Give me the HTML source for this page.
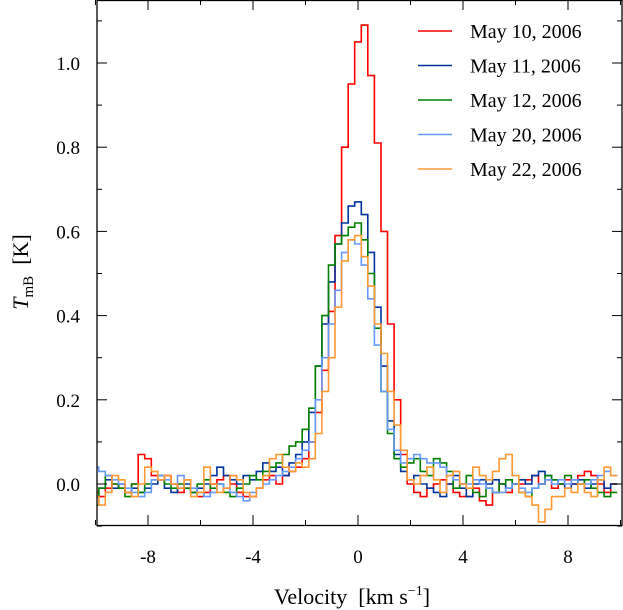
<!DOCTYPE html>
<html><head><meta charset="utf-8"><style>
body{margin:0;background:#fff}
svg{display:block;font-family:"Liberation Serif",serif}
</style></head><body>
<svg id="chart" width="623" height="610" viewBox="0 0 623 610" xmlns="http://www.w3.org/2000/svg">
<g id="plot"></g>
</svg>
<script>
const vStart = -10, vStep = 0.25;
const labels = ["May 10, 2006","May 11, 2006","May 12, 2006","May 20, 2006","May 22, 2006"];
const red = [-0.02,-0.03,-0.01,0.0,-0.01,-0.02,0.0,0.07,0.06,0.02,0.01,0.02,0.0,-0.02,-0.01,-0.02,-0.03,-0.02,0.0,0.01,0.02,0.0,-0.02,-0.03,-0.03,-0.01,0.01,0.02,0.0,0.02,0.03,0.04,0.06,0.10,0.17,0.27,0.41,0.59,0.80,0.95,1.05,1.09,0.97,0.81,0.60,0.38,0.20,0.07,0.0,-0.02,-0.03,-0.01,0.0,0.01,0.0,-0.02,-0.03,-0.03,-0.01,-0.04,-0.05,-0.02,0.0,-0.02,0.0,0.0,0.01,0.02,0.0,0.01,-0.01,0.0,0.01,0.0,0.02,0.03,0.02,0.0,-0.02,0.0];
const blue = [-0.03,-0.01,0.01,-0.01,0.0,-0.02,-0.01,-0.02,-0.01,0.0,0.01,-0.01,-0.02,-0.01,0.0,-0.02,-0.01,0.0,0.02,0.04,0.02,0.01,0.0,0.02,0.01,0.03,0.05,0.03,0.04,0.02,0.05,0.07,0.10,0.17,0.28,0.38,0.48,0.57,0.62,0.66,0.67,0.64,0.55,0.42,0.28,0.15,0.07,0.03,0.01,0.02,0.0,-0.01,-0.02,-0.03,0.0,0.02,-0.01,-0.03,0.0,0.01,0.0,0.01,0.0,-0.01,0.0,0.01,0.0,0.02,0.03,0.02,0.01,0.0,-0.01,0.0,0.01,-0.01,0.0,0.01,-0.01,0.0];
const green = [-0.05,-0.01,0.02,0.0,-0.01,-0.03,0.0,-0.02,0.0,0.01,0.02,0.0,-0.01,0.0,-0.01,-0.02,0.0,0.01,-0.01,0.0,-0.02,-0.03,-0.01,0.0,0.02,0.01,0.03,0.04,0.05,0.07,0.09,0.10,0.13,0.18,0.28,0.40,0.52,0.57,0.59,0.61,0.62,0.58,0.50,0.37,0.22,0.12,0.06,0.04,0.05,0.06,0.03,0.02,0.06,0.05,0.03,-0.01,0.0,0.02,-0.02,-0.03,-0.01,-0.02,0.0,0.01,0.0,-0.02,-0.03,-0.01,0.0,0.02,0.01,0.0,0.02,0.01,0.0,0.01,-0.01,-0.02,-0.03,-0.02];
const lightblue = [0.04,0.03,0.02,0.01,0.0,-0.01,-0.02,-0.03,-0.02,0.01,0.02,0.01,0.0,0.02,0.01,-0.01,-0.02,-0.03,-0.02,0.0,-0.01,-0.02,-0.03,-0.04,-0.02,-0.01,0.0,0.01,0.02,0.03,0.04,0.06,0.08,0.10,0.20,0.30,0.38,0.46,0.55,0.58,0.57,0.52,0.44,0.33,0.22,0.13,0.08,0.05,0.06,0.07,0.06,0.05,0.05,0.04,0.02,0.01,0.0,0.0,0.01,0.0,-0.01,-0.02,-0.02,-0.01,0.0,-0.01,-0.02,-0.01,0.0,0.01,0.0,0.01,0.0,0.01,0.0,0.0,0.01,0.02,0.03,0.02];
const orange = [-0.03,-0.05,-0.02,0.02,0.01,-0.02,-0.03,0.0,0.04,0.03,0.01,0.02,0.0,-0.01,0.01,-0.03,-0.02,0.04,0.0,-0.02,-0.01,0.02,0.01,-0.02,-0.03,-0.01,0.02,0.06,0.07,0.04,0.03,0.05,0.04,0.06,0.12,0.22,0.30,0.42,0.53,0.58,0.59,0.54,0.47,0.38,0.31,0.22,0.14,0.08,0.01,0.0,0.02,0.04,0.01,-0.02,0.02,0.03,0.0,-0.01,0.04,0.02,0.01,0.03,0.06,0.07,0.02,-0.02,-0.03,-0.05,-0.09,-0.06,-0.03,-0.03,-0.01,-0.02,0.0,-0.02,-0.03,0.01,0.04,0.02];
const seriesList = [red, blue, green, lightblue, orange];
const colors = ["#ff0000","#0033a0","#008000","#6699ff","#ff9933"];
const xTicks = [-8,-4,0,4,8];
const xMinor = [-10,-6,-2,2,6,10];
const yTicks = [0.0,0.2,0.4,0.6,0.8,1.0];
const yMinor = [-0.1,0.1,0.3,0.5,0.7,0.9,1.1];

const L=97,R=622,T=0,B=525;
const X = v => 358 + v*26.25;
const Y = t => 484 - t*421;
const NS="http://www.w3.org/2000/svg";
const g=document.getElementById('plot');
function mk(tag,attrs,parent){const e=document.createElementNS(NS,tag);for(const k in attrs)e.setAttribute(k,attrs[k]);(parent||g).appendChild(e);return e;}

const defs=mk('defs',{});const cp=mk('clipPath',{id:'clip'},defs);mk('rect',{x:L,y:T,width:R-L,height:B-T},cp);

seriesList.forEach((s,si)=>{
  let d="";
  s.forEach((val,i)=>{
    const x0=X(vStart+(i-0.5)*vStep), x1=X(vStart+(i+0.5)*vStep), y=Y(val);
    d += (i===0?"M":"L")+x0.toFixed(1)+","+y.toFixed(1)+" L"+x1.toFixed(1)+","+y.toFixed(1)+" ";
  });
  const p=mk('path',{d:d,fill:"none",stroke:colors[si],"stroke-width":1.6,"clip-path":"url(#clip)"});
  
  
});

const fr=mk('rect',{x:L,y:T+0.5,width:R-L,height:B-T,fill:"none",stroke:"#000","stroke-width":1.3});



xTicks.forEach(v=>{
  const x=X(v);
  mk('line',{x1:x,y1:B,x2:x,y2:B-10,stroke:"#000"});
  mk('line',{x1:x,y1:T,x2:x,y2:T+10,stroke:"#000"});
  const t=mk('text',{x:x,y:B+38,"text-anchor":"middle","font-size":19});
  t.textContent=v;
  
  
});
xMinor.forEach(v=>{
  const x=X(v);
  mk('line',{x1:x,y1:B,x2:x,y2:B-5,stroke:"#000"});
  mk('line',{x1:x,y1:T,x2:x,y2:T+5,stroke:"#000"});
});
yTicks.forEach(v=>{
  const y=Y(v);
  mk('line',{x1:L,y1:y,x2:L+10,y2:y,stroke:"#000"});
  mk('line',{x1:R,y1:y,x2:R-10,y2:y,stroke:"#000"});
  const t=mk('text',{x:80,y:y+7,"text-anchor":"end","font-size":19});
  t.textContent=v.toFixed(1);
  
  
});
yMinor.forEach(v=>{
  const y=Y(v);
  mk('line',{x1:L,y1:y,x2:L+5,y2:y,stroke:"#000"});
  mk('line',{x1:R,y1:y,x2:R-5,y2:y,stroke:"#000"});
});

labels.forEach((lab,i)=>{
  const y=31+i*34.5;
  const ln=mk('line',{x1:418,y1:y,x2:452,y2:y,stroke:colors[i],"stroke-width":1.6});
  
  
  const t=mk('text',{x:470,y:y+7,"font-size":20});
  t.textContent=lab;
  
  
});

const xt=mk('text',{x:352,y:604,"text-anchor":"middle","font-size":22});
xt.innerHTML='Velocity&#160;&#160;[km s<tspan dy="-9" font-size="14">&#8722;1</tspan><tspan dy="9">]</tspan>';


const yt=mk('text',{transform:"translate(28,272) rotate(-90)","text-anchor":"middle","font-size":22});
yt.innerHTML='<tspan font-style="italic">T</tspan><tspan dy="5" font-size="15">mB</tspan><tspan dy="-5">&#160;&#160;[K]</tspan>';


</script>
</body></html>
